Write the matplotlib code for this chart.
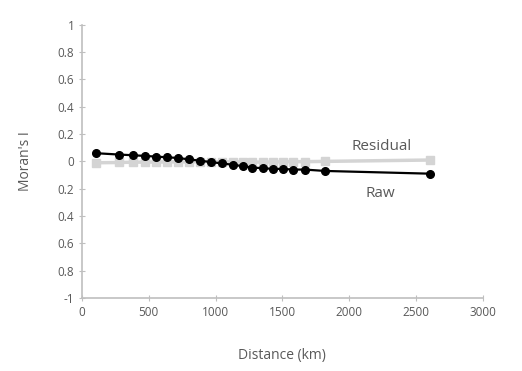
import matplotlib.pyplot as plt

# distance classes (km) and Moran's I values
distance = [105, 277, 381, 471, 553, 636, 718, 800, 883, 965, 1047,
            1130, 1204, 1272, 1354, 1429, 1503, 1578, 1668, 1818, 2603]
raw = [0.06, 0.05, 0.045, 0.04, 0.035, 0.03, 0.025, 0.015, 0.005, -0.005, -0.015,
       -0.025, -0.035, -0.045, -0.05, -0.055, -0.055, -0.06, -0.06, -0.07, -0.09]
residual = [-0.01, -0.008, -0.006, -0.005, -0.005, -0.004, -0.004, -0.003, -0.002, -0.002, -0.003,
            -0.004, -0.004, -0.005, -0.005, -0.004, -0.003, -0.002, -0.002, 0.0, 0.01]

yticks = [1, 0.8, 0.6, 0.4, 0.2, 0, -0.2, -0.4, -0.6, -0.8, -1]
ytick_labels = ['1', '0.8', '0.6', '0.4', '0.2', '0', '0.2', '0.4', '0.6', '0.8', '-1']
xticks = [0, 500, 1000, 1500, 2000, 2500, 3000]

plt.rcParams['font.family'] = ['Open Sans', 'DejaVu Sans']

fig = plt.figure(figsize=(5.22, 3.71), dpi=100)
ax = fig.add_axes([0.157, 0.197, 0.768, 0.736])

ax.plot(distance, residual, color='#d4d4d4', lw=2.5, marker='s', ms=5.5, zorder=2)
ax.plot(distance, raw, color='black', lw=1.6, marker='o', ms=5.5, zorder=3)

ax.text(2240, 0.11, 'Residual', fontsize=11, color='#595959', ha='center', va='center')
ax.text(2230, -0.235, 'Raw', fontsize=11, color='#595959', ha='center', va='center')

ax.set_xlim(0, 3000)
ax.set_ylim(-1, 1)
ax.set_xticks(xticks)
ax.set_yticks(yticks)
ax.set_yticklabels(ytick_labels)
ax.tick_params(colors='#bfbfbf', labelcolor='#595959', labelsize=8.5, length=4, direction='inout')

for side in ['top', 'right']:
    ax.spines[side].set_visible(False)
for side in ['left', 'bottom']:
    ax.spines[side].set_color('#bfbfbf')
    ax.spines[side].set_linewidth(1.2)

ax.set_xlabel('Distance (km)', fontsize=10, color='#595959', labelpad=21)
ax.set_ylabel("Moran's I", fontsize=10, color='#595959', labelpad=18)

fig.savefig('out.png', dpi=100)
